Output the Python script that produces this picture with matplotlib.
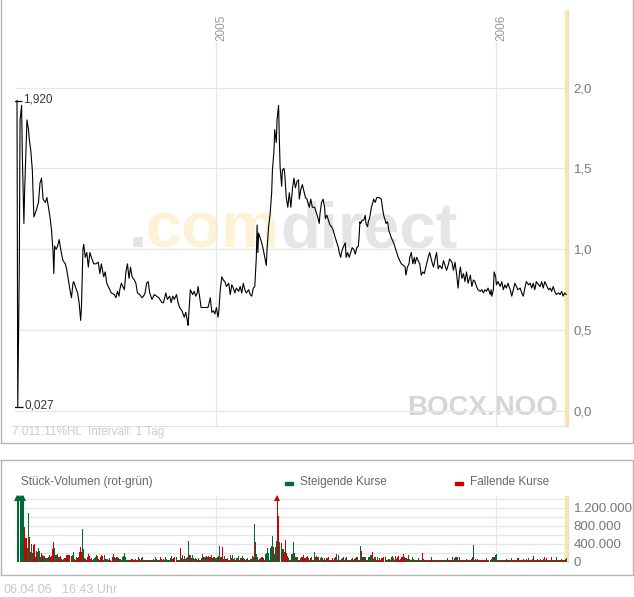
import numpy as np
import pandas as pd
import matplotlib
matplotlib.use("Agg")
import matplotlib.pyplot as plt
from matplotlib.lines import Line2D
from matplotlib.patches import Rectangle
from matplotlib.ticker import FuncFormatter

plt.rcParams['font.family'] = ['Liberation Sans', 'DejaVu Sans']

W, H = 634, 597
start = pd.Timestamp('2004-04-17')
year_ticks = ['2005-01-01', '2006-01-01']
year_labels = ['2005', '2006']

# price: days after start, closing price
price_day = [0, 1, 3, 4, 6, 7, 9, 10, 13, 15, 16, 18, 20, 22, 25, 28, 30, 32, 34, 37, 39, 41, 43, 45, 47, 48,
             49, 51, 53, 55, 57, 59, 60, 63, 65, 67, 69, 71, 73, 74, 76, 79, 81, 83, 84, 86, 87, 89, 91, 93,
             95, 97, 100, 103, 106, 108, 110, 113, 115, 117, 119, 121, 123, 127, 129, 131, 133, 134, 136,
             140, 142, 144, 146, 148, 150, 153, 155, 157, 160, 163, 165, 167, 169, 171,
             173, 176, 179, 182, 185, 189, 191, 194, 196, 199, 201, 203, 205, 208, 210, 212, 215, 218, 220,
             222, 223, 225, 226, 229, 231, 233, 235, 236, 238, 240, 242, 245, 247, 249, 252, 254, 256, 258,
             260, 262, 263, 265, 267, 269, 271, 273, 276, 278, 280, 282, 284, 286, 289, 291, 293, 295, 297,
             299, 302, 304, 306, 308, 310, 312, 313, 314, 315, 317, 319, 321, 323, 325, 326, 328, 330, 332,
             333, 335, 336, 338, 339, 341, 342, 343, 345, 346, 348,
             349, 351, 353, 355, 357, 359, 361, 363, 365, 367, 368, 370, 372, 374, 376, 378, 381, 383, 385,
             388, 390, 392, 394, 395, 397, 399, 401, 402, 404, 406, 408, 410, 412, 415, 417, 419, 420, 422,
             423, 425, 428, 429, 431, 433, 435, 437, 439, 441, 443, 445, 446, 447, 448, 450, 452, 454, 455,
             457, 458, 460, 462, 464, 465, 467, 469, 471, 472, 475, 476, 478, 480, 481, 483, 485, 486, 488,
             491, 493, 495, 497, 499, 501, 504, 506, 507, 509, 511, 512, 514, 516, 518, 519, 521, 523, 525,
             527, 529, 531,
             534, 536, 538, 541, 543, 545, 547, 549, 551, 554, 556, 558, 560, 562, 564, 567, 569, 571, 573,
             575, 577, 578, 580, 582, 584, 586, 588, 591, 593, 595, 597, 599, 601, 604, 606, 608, 610, 612,
             614, 617, 618, 619, 621, 622, 624, 625, 627, 630, 632, 634, 636, 638, 640, 643, 645, 647, 649,
             651, 653, 656, 658, 660, 662, 664, 667, 669, 671, 673, 675, 677, 680, 682, 684, 686, 688, 690,
             693, 695, 697, 699, 701, 703, 706, 708, 710, 712, 714, 716]
price = [1.92, 0.027, 0.89, 1.80, 1.89, 1.57, 1.16, 1.37, 1.80, 1.74, 1.68, 1.61, 1.49, 1.20, 1.24, 1.29,
         1.41, 1.44, 1.31, 1.29, 1.32, 1.26, 1.20, 1.12, 0.98, 0.85,
         1.02, 1.00, 1.02, 1.06, 1.00, 0.95, 0.93, 0.91, 0.87, 0.81, 0.75, 0.70, 0.79, 0.80, 0.77, 0.73,
         0.67, 0.56, 0.64, 1.00, 1.03, 0.95, 0.98, 0.89,
         0.98, 0.95, 0.91, 0.91, 0.92, 0.85, 0.91, 0.83, 0.86, 0.79, 0.77, 0.75, 0.73, 0.72, 0.70, 0.74,
         0.71, 0.75, 0.79,
         0.75, 0.86, 0.91, 0.82, 0.89, 0.83, 0.81, 0.79, 0.73, 0.72, 0.70, 0.71, 0.73, 0.79, 0.80,
         0.73, 0.69, 0.72, 0.71, 0.70, 0.67, 0.67, 0.73, 0.69, 0.71, 0.67, 0.71, 0.69, 0.72, 0.67, 0.64,
         0.62, 0.58, 0.61,
         0.56, 0.53, 0.67, 0.75, 0.72, 0.74, 0.71, 0.73, 0.77, 0.71, 0.64, 0.64, 0.64, 0.64, 0.64, 0.70,
         0.61, 0.62, 0.60,
         0.64, 0.58, 0.61, 0.75, 0.83, 0.81, 0.80, 0.77, 0.79, 0.72, 0.78, 0.76, 0.73, 0.76, 0.74, 0.77,
         0.73, 0.79, 0.75,
         0.73, 0.75, 0.72, 0.71, 0.76, 0.77, 0.95, 1.15, 0.98, 1.10, 1.07, 1.04, 1.00, 0.95, 0.90, 1.00,
         1.14, 1.22, 1.35,
         1.49, 1.61, 1.74, 1.66, 1.80, 1.89, 1.68, 1.51, 1.39, 1.49, 1.50,
         1.47, 1.32, 1.26, 1.35, 1.26, 1.37, 1.44, 1.38, 1.42, 1.43, 1.31, 1.37, 1.40, 1.36, 1.32, 1.31,
         1.26, 1.31, 1.26,
         1.26, 1.23, 1.20, 1.16, 1.22, 1.29, 1.31, 1.26, 1.19, 1.21, 1.18, 1.15, 1.14, 1.12, 1.07, 1.04,
         1.01, 0.98, 0.95,
         0.98, 1.01, 1.04, 0.95, 0.98, 0.95, 0.98, 1.01, 1.00, 0.97, 1.01, 1.02, 1.08, 1.17, 1.16, 1.18,
         1.18, 1.21, 1.16,
         1.14, 1.17, 1.20, 1.26, 1.29, 1.31, 1.29, 1.32, 1.32, 1.32, 1.31, 1.27, 1.21, 1.18, 1.16, 1.17,
         1.11, 1.10, 1.07,
         1.04, 1.01, 0.98, 0.95, 0.93, 0.91, 0.90, 0.89, 0.84, 0.89, 0.91, 0.95, 0.98, 0.91, 0.95, 0.91,
         0.95, 0.93, 0.91,
         0.84, 0.86, 0.85,
         0.91, 0.95, 0.98, 0.92, 0.89, 0.94, 0.98, 0.88, 0.90, 0.88, 0.93, 0.90, 0.87, 0.90, 0.94, 0.92,
         0.87, 0.92, 0.85,
         0.76, 0.86, 0.89, 0.82, 0.85, 0.80, 0.86, 0.79, 0.84, 0.77, 0.81, 0.80, 0.77, 0.75, 0.74, 0.75,
         0.73, 0.75, 0.74,
         0.76, 0.72, 0.75, 0.71, 0.75, 0.86, 0.83, 0.78, 0.80, 0.77, 0.80, 0.75, 0.78, 0.76, 0.79, 0.75,
         0.71, 0.75, 0.79,
         0.77, 0.75, 0.76, 0.73, 0.71, 0.76, 0.80, 0.78, 0.79, 0.76, 0.79, 0.75, 0.80, 0.78, 0.77, 0.80,
         0.76, 0.80, 0.78,
         0.75, 0.76, 0.74, 0.77, 0.74, 0.72, 0.73, 0.72, 0.74, 0.71, 0.73, 0.72]

# volume in thousand shares, one bar per session; g = rising, r = falling
vol_2004 = [2000, 2000, 0, 2000, 2000, 2000, 2000, 778, 526, 526,
            304, 1080, 556, 207, 393, 185, 378, 393, 111, 244,
            207, 304, 244, 111, 200, 156, 133, 133, 81, 89,
            74, 96, 148, 96, 118, 281, 437, 296, 156, 148,
            163, 96, 96, 133, 59, 44, 52, 74, 81, 148,
            148, 148, 148, 133, 148, 207, 59, 44, 96, 81,
            96, 207, 333, 207, 726, 281, 74, 52, 37, 111,
            170, 133, 59, 81, 37, 52, 81, 96, 148, 118,
            59, 44, 96, 148, 118, 37, 148, 59, 59, 59,
            37, 74, 44, 22, 96, 170, 111, 81, 96, 96,
            74, 52, 59, 37, 96, 133, 185, 96, 37, 37,
            37, 37, 37, 52, 52, 37, 37, 59, 37, 37,
            96, 52, 37, 74, 96, 37, 37, 37, 37, 37,
            37, 37, 37, 37, 37, 59, 37, 96, 59, 37,
            37, 37, 96, 52, 37, 52, 37, 96, 52, 37,
            37, 37, 74, 118, 52, 74, 96, 111, 37, 37,
            37, 304, 81, 148, 52, 118, 59, 74, 96, 459,
            148, 148, 74, 148, 74, 59, 74]
dir_2004 = ("gggggggrrr" "ggrrggrrrr" "ggggrrgrgg" "grgrrrrggr" "ggrrrgggrr"
            "rrrrggrrgr" "rrrrggrgrr" "rrgrgggggr" "grrrrggggg" "rrrgrrggrg"
            "rrggggggrg" "rgrrrgrrgr" "rrgggrgrgr" "grggrrgggr" "ggrrgrgggg"
            "rgggrrrgrg" "rrggrgggrg" "rgrggrg")
vol_2005a = [59, 37, 74, 37, 37, 81, 170, 96, 111, 96,
             118, 96, 133, 96, 96, 148, 81, 96, 111, 81,
             81, 96, 133, 341, 96, 96, 333, 59, 133, 59,
             59, 81, 37, 37, 148, 81, 148, 52, 74, 37,
             74, 74, 126, 37, 74, 74, 126, 74, 52, 37,
             52, 81, 37, 37, 52, 52, 133, 96, 837, 437,
             170, 96, 37, 52, 81, 96, 96, 74, 37, 170,
             193, 304, 185, 37, 304, 356, 578, 333, 170, 319,
             467, 2000, 1020, 444, 407, 281, 281, 207, 481, 185,
             133, 74, 37, 37, 170, 170, 430, 185, 96, 96,
             111, 37, 37, 74, 96, 96, 148, 74, 74, 96,
             126, 74, 37, 74, 96, 37, 37, 207, 96, 126,
             111, 96, 37, 81, 111, 74, 37, 74, 37, 74,
             81, 96, 37, 37, 37, 74, 37, 74, 111, 170,
             37, 148, 37, 37, 59, 74, 111, 37, 74, 111,
             37, 37, 37, 37, 59, 81, 37, 59, 81, 96,
             96, 37, 37, 356, 244, 96, 96, 96, 96, 37,
             37, 96, 96, 156, 156, 207, 59, 96, 96, 37,
             96, 37, 74, 37, 74]
dir_2005a = ("rgrrgggrgr" "grgrrrgrgg" "grgggrrrgr" "rrrggrgrgr" "grgrgrgrrr"
             "ggrggggrgr" "ggrrrgrrrg" "gggrgggrgg" "grrgrggrrr" "rgrggggrgg"
             "grrrgrrrgr" "rrrggrggrr" "ggrggrrrgr" "grgrgrrgrg" "rrggrggrgg"
             "rgrrgrggrg" "rrggrggrgr" "grgggrgrgr" "grrgr")
vol_2005b = [81, 96, 96, 37, 37, 59, 59, 37, 96, 133,
             81, 37, 118, 59, 96, 133, 37, 59, 96, 111,
             170, 111, 74, 74, 59, 148, 59, 37, 37, 111,
             52, 37, 37, 37, 37, 81, 37, 37, 37, 193,
             52, 37, 37, 37, 37, 37, 37, 37, 111, 37,
             37, 37, 37, 37, 37, 37, 37, 37, 37, 37,
             37, 37, 37, 37, 81, 37, 37, 37, 37, 96,
             37, 81, 96, 96, 96, 37, 111, 37, 37, 37,
             37, 37, 37, 59, 37, 37, 37, 37, 59, 96,
             378, 37, 59, 37, 59, 37, 37, 37, 37, 37,
             37, 37, 37, 81, 37, 37, 37, 59, 111, 111,
             96, 148, 170, 37, 37, 37, 37, 37, 37, 37,
             37, 37, 59, 37, 37, 37, 37, 74, 37, 37,
             37, 37, 37, 74, 74, 37, 37, 37, 37, 59,
             37, 37, 59, 37, 81, 37, 37, 37, 59, 133,
             37, 37, 37, 59, 37, 37, 59, 37, 37, 59,
             111, 37, 74, 37, 37, 37, 37, 111, 37, 37,
             37, 37, 111, 37, 37, 37, 37, 59, 37, 37,
             37, 59, 74]
dir_2005b = ("rrrggrggrg" "ggrrrrgrrr" "rrgrggrggg" "grrggrggrr" "grgrggrrrg"
             "grrgrgrgrg" "rrgggrrgrr" "grgggrrrgg" "rrggrrggrr" "ggrgrgrrrg"
             "rrrgrgrggr" "gggrrrgggg" "rgrrrgrggr" "rrgrrgrrgr" "rrgrgrrgrr"
             "grrgrrgrrg" "rgrrggrrgr" "rggrrgrgrr" "grg")

vol = vol_2004 + vol_2005a + vol_2005b
vol_dir = dir_2004 + dir_2005a + dir_2005b
vol_day = np.linspace(price_day[0], price_day[-1], len(vol))

GREEN = '#006b38'
RED = '#d10000'
GRID = '#e6e6e6'
FRAME = '#b4b4b4'

def fx(px):
    return px / W

def fy(py):
    return 1 - py / H

fig = plt.figure(figsize=(W / 100, H / 100), dpi=100)
fig.patch.set_facecolor('white')

# panel frames
for xs, ys in [([0.5, 0.5, 632.5, 632.5], [-5, 443, 443, -5]),
               ([0.5, 0.5, 632.5, 632.5, 0.5], [460, 575, 575, 460, 460])]:
    fig.add_artist(Line2D([fx(v) for v in xs], [fy(v) for v in ys], color=FRAME, lw=1.0))

year_pos = [(pd.Timestamp(t) - start).days for t in year_ticks]
xlim = (-2.6, 718.3)

# ---- price panel
ax = fig.add_axes([fx(15), fy(426), (568 - 15) / W, (426 - 10) / H])
ax.set_xlim(*xlim)
ax.set_ylim(-0.093, 2.48)
ax.plot(price_day, price, color='black', lw=0.8, zorder=4)
ax.axvline(price_day[-1], color='#fbe6a2', lw=2.3, zorder=2)
for p in year_pos:
    ax.axvline(p, ymin=0, ymax=0.921, color=GRID, lw=0.9, zorder=1)
for p, lab in zip(year_pos, year_labels):
    ax.annotate(lab, xy=(p, 1), xycoords=('data', 'axes fraction'), xytext=(3.8, -3),
                textcoords='offset points', rotation=90, ha='center', va='top',
                fontsize=8.5, color='#999999')
ax.set_yticks([0, 0.5, 1.0, 1.5, 2.0])
ax.yaxis.set_major_formatter(FuncFormatter(lambda v, _: f"{v:.1f}".replace('.', ',')))
ax.yaxis.tick_right()
ax.tick_params(axis='y', length=0, pad=4, labelsize=9.5, labelcolor='#777777')
ax.set_xticks([])
ax.grid(axis='y', color=GRID, lw=0.9)
ax.set_axisbelow(True)
for s in ['top', 'left']:
    ax.spines[s].set_visible(False)
ax.spines['bottom'].set_color('#e2e2e2')
ax.spines['right'].set_color('#dedede')

# high / low markers
i_hi = int(np.argmax(price))
i_lo = int(np.argmin(price))
for i in (i_hi, i_lo):
    ax.plot(price_day[i], price[i], marker='_', ms=7.5, mew=0.9, color='black', zorder=5)
    ax.annotate(f"{price[i]:.3f}".replace('.', ','), xy=(price_day[i], price[i]),
                xytext=(4.5, 1), textcoords='offset points', ha='left', va='center',
                fontsize=8.5, color='#333333')

# watermark
ax.text(fx(129), fy(247), '.', transform=fig.transFigure, fontsize=47, fontweight='bold',
        color='#e3e3e3', va='baseline', ha='left', zorder=0.5)
ax.text(fx(146), fy(247), 'com', transform=fig.transFigure, fontsize=47, fontweight='bold',
        color='#fdf2d6', va='baseline', ha='left', zorder=0.5)
ax.text(fx(280), fy(247), 'direct', transform=fig.transFigure, fontsize=47, fontweight='bold',
        color='#e5e5e5', va='baseline', ha='left', zorder=0.5)
ax.text(fx(558), fy(415), 'BOCX.NOO', transform=fig.transFigure, fontsize=20, fontweight='bold',
        color='#d6d6d6', va='baseline', ha='right', zorder=0.5)

fig.text(fx(12), fy(432), '7.011,11%HL  Intervall: 1 Tag', fontsize=8.5, color='#cccccc',
         va='center', ha='left')

# ---- volume panel
ax2 = fig.add_axes([fx(15), fy(562), (568 - 15) / W, (562 - 496) / H])
ax2.set_xlim(*xlim)
vmax = 1460
ax2.set_ylim(-6.7, vmax)
cols = [GREEN if c == 'g' else RED for c in vol_dir]
ax2.vlines(vol_day, 0, np.minimum(vol, vmax), colors=cols, lw=0.7, antialiased=False, zorder=3)
for d, v, c in zip(vol_day, vol, cols):
    if v > vmax:
        ax2.plot(d, vmax - 40, marker='^', ms=5, color=c, mew=0, clip_on=False, zorder=4)
ax2.axvline(price_day[-1], color='#fbe6a2', lw=2.3, zorder=2)
for p in year_pos:
    ax2.axvline(p, color=GRID, lw=0.9, zorder=1)
ax2.set_yticks([0, 400, 800, 1200])
ax2.set_yticks(np.arange(0, 1401, 200), minor=True)
ax2.yaxis.set_major_formatter(FuncFormatter(lambda v, _: f"{int(v * 1000):,}".replace(',', '.')))
ax2.yaxis.tick_right()
ax2.tick_params(axis='y', which='both', length=0, pad=4, labelsize=9.5, labelcolor='#777777')
ax2.set_xticks([])
ax2.grid(axis='y', which='both', color=GRID, lw=0.9)
ax2.set_axisbelow(True)
for s in ['top', 'left', 'bottom']:
    ax2.spines[s].set_visible(False)
ax2.spines['right'].set_color('#dedede')

fig.text(fx(21), fy(482), 'Stück-Volumen (rot-grün)', fontsize=8.5, color='#666666',
         va='center', ha='left')
fig.add_artist(Rectangle((fx(285), fy(484.5)), 7.5 / W, 3 / H, color=GREEN, transform=fig.transFigure))
fig.text(fx(300), fy(482), 'Steigende Kurse', fontsize=8.5, color='#666666', va='center', ha='left')
fig.add_artist(Rectangle((fx(455), fy(484.5)), 7.5 / W, 3 / H, color=RED, transform=fig.transFigure))
fig.text(fx(470), fy(482), 'Fallende Kurse', fontsize=8.5, color='#666666', va='center', ha='left')

fig.text(fx(3), fy(590), '06.04.06', fontsize=9, color='#c8c8c8', va='center', ha='left')
fig.text(fx(62), fy(590), '16:43 Uhr', fontsize=9, color='#c8c8c8', va='center', ha='left')

fig.savefig('out.png', dpi=100)
